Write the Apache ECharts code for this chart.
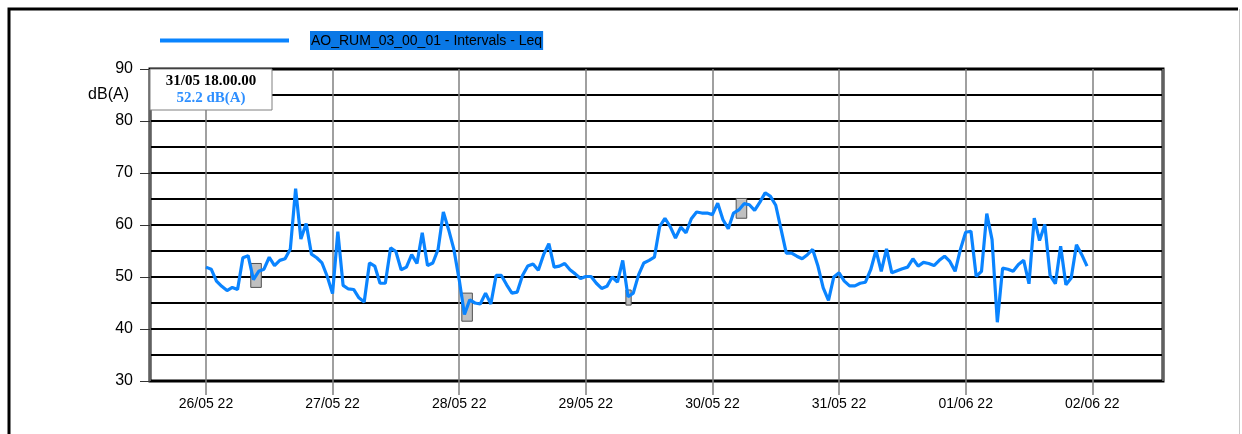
<!DOCTYPE html>
<html><head><meta charset="utf-8">
<script src="https://cdn.jsdelivr.net/npm/echarts@6/dist/echarts.min.js"></script>
<style>html,body{margin:0;padding:0;background:#fff}#c{width:1242px;height:434px}</style>
</head><body><div id="c"></div>
<script>
// ---- data ----
const seriesName = 'AO_RUM_03_00_01 - Intervals - Leq';
const startDate = [2022, 4, 26, 0];   // 26/05/22 00:00 local
const stepHours = 1;                  // hourly intervals
const leq = [
 51.9,51.5,49.2,48.2,47.4,48.0,47.6,53.7,54.1,49.5,51.1,51.5,53.8,52.2,53.2,53.5,55.4,67.0,57.3,60.3,54.4,53.7,52.7,50.1,
 46.8,58.7,48.4,47.7,47.6,46.0,45.2,52.7,52.1,48.8,48.8,55.6,54.9,51.4,51.9,54.3,52.6,58.5,52.2,52.7,55.3,62.5,59.1,55.3,
 49.5,42.8,45.6,45.0,44.8,46.9,44.8,50.3,50.3,48.5,46.9,47.1,50.3,52.1,52.5,51.3,54.3,56.4,51.9,52.1,52.6,51.4,50.6,49.7,
 50.1,50.1,48.8,47.8,48.2,50.0,49.0,53.2,46.2,46.9,50.4,52.7,53.2,53.8,59.7,61.3,59.7,57.5,59.6,58.5,61.2,62.5,62.3,62.3,
 62.0,64.2,61.0,59.3,62.3,62.9,64.1,63.9,62.8,64.4,66.2,65.5,63.8,59.2,54.6,54.6,54.0,53.5,54.3,55.3,52.1,47.9,45.5,50.0,
 50.8,49.2,48.3,48.3,48.8,49.0,51.4,55.1,51.1,55.4,50.8,51.2,51.6,51.9,53.5,52.1,52.8,52.6,52.2,53.2,54.0,53.0,51.1,55.3,
 58.6,58.8,50.1,51.1,62.2,57.2,41.3,51.7,51.5,51.1,52.4,53.2,48.7,61.3,57.0,60.1,50.3,48.7,55.9,48.5,49.8,56.2,54.3,52.1
];
const yMin = 30, yMax = 90, yStep = 10;
const axisStartH = -10.6, axisEndH = 181.4;     // hours relative to start
const markerStartH = [8.5, 48.5, 79.6, 100.5];
const markerEndH   = [10.5, 50.5, 80.6, 102.5];
const markerLow    = [48.0, 41.5, 44.6, 61.3];
const markerHigh   = [52.6, 46.9, 47.5, 65.1];
const cursorIndex = 138;   // 31/05 18:00

// ---- build ----
const H = 3600000;
const t0 = new Date(startDate[0], startDate[1], startDate[2], startDate[3]).getTime();
const times = leq.map((_, i) => t0 + i * stepHours * H);
const pts = leq.map((v, i) => [times[i], v]);
const p2 = n => String(n).padStart(2, '0');
const dayLabel = v => { const d = new Date(v); return p2(d.getDate()) + '/' + p2(d.getMonth() + 1) + ' ' + p2(d.getFullYear() % 100); };
const cd = new Date(times[cursorIndex]);
const cursorTime = p2(cd.getDate()) + '/' + p2(cd.getMonth() + 1) + ' ' + p2(cd.getHours()) + '.' + p2(cd.getMinutes()) + '.' + p2(cd.getSeconds());
const cursorVal = leq[cursorIndex].toFixed(1) + ' dB(A)';
const markAreas = markerStartH.map((s, i) => [
  { coord: [t0 + s * H, markerHigh[i]] },
  { coord: [t0 + markerEndH[i] * H, markerLow[i]] }
]);

const chart = echarts.init(document.getElementById('c'), null, { renderer: 'canvas' });
chart.setOption({
  animation: false,
  backgroundColor: '#fff',
  grid: { left: 150, right: 79, top: 69, bottom: 53, show: true, borderColor: '#000', borderWidth: 3, backgroundColor: 'transparent' },
  legend: {
    left: 160, top: 31, padding: 0, itemWidth: 129, itemHeight: 4, itemGap: 21, icon: 'rect',
    formatter: n => '{g|}{t|' + n + '}',
    textStyle: {
      color: '#000', fontFamily: 'Liberation Sans', fontSize: 14,
      rich: {
        g: { width: 16 },
        t: { color: '#000', fontFamily: 'Liberation Sans', fontSize: 14, backgroundColor: '#0a78e6', padding: [3, 1, 2, 1] }
      }
    },
    data: [seriesName]
  },
  xAxis: {
    type: 'time',
    min: t0 + axisStartH * H, max: t0 + axisEndH * H,
    minInterval: 24 * H, maxInterval: 24 * H,
    axisLine: { show: false },
    axisTick: { show: true, length: 14, lineStyle: { color: '#808080', width: 1.5 } },
    splitLine: { show: true, lineStyle: { color: '#808080', width: 1.5 } },
    axisLabel: { showMinLabel: false, showMaxLabel: false, margin: 16, color: '#000', fontFamily: 'Liberation Sans', fontSize: 14, formatter: v => dayLabel(v) }
  },
  yAxis: {
    type: 'value', min: yMin, max: yMax, interval: yStep,
    axisLine: { show: false },
    axisTick: { show: true, length: 10, lineStyle: { color: '#333', width: 1 } },
    splitLine: { show: true, lineStyle: { color: '#000', width: 2 } },
    minorTick: { show: false, splitNumber: 2 },
    minorSplitLine: { show: true, lineStyle: { color: '#000', width: 2 } },
    axisLabel: { margin: 17, color: '#000', fontFamily: 'Liberation Sans', fontSize: 16 }
  },
  series: [{
    name: seriesName, type: 'line', data: pts, showSymbol: false, symbol: 'none',
    lineStyle: { color: '#0a84ff', width: 3.2 }, itemStyle: { color: '#0a84ff' },
    markArea: { silent: true, itemStyle: { color: '#c0c0c0', borderColor: '#505050', borderWidth: 1, opacity: 1 }, data: markAreas },
    z: 3
  }],
  graphic: [
    { type: 'polyline', z: 100, shape: { points: [[9, 434], [9, 9], [1238, 9]] }, style: { stroke: '#000', lineWidth: 3, fill: null } },
    { type: 'line', z: 100, shape: { x1: 1239.5, y1: 9, x2: 1239.5, y2: 434 }, style: { stroke: '#c8c8c8', lineWidth: 1 } },
    { type: 'text', z: 100, x: 129, y: 95, style: { text: 'dB(A)', fill: '#000', font: '16px "Liberation Sans"', align: 'right', verticalAlign: 'middle' } },
    { type: 'rect', z: 100, shape: { x: 150, y: 69, width: 122, height: 41 }, style: { fill: '#fff', stroke: '#808080', lineWidth: 1 } },
    { type: 'text', z: 101, x: 211, y: 81, style: { text: cursorTime, fill: '#000', font: 'bold 15px "Liberation Serif"', align: 'center', verticalAlign: 'middle' } },
    { type: 'text', z: 101, x: 211, y: 98, style: { text: cursorVal, fill: '#2e8fff', font: 'bold 15px "Liberation Serif"', align: 'center', verticalAlign: 'middle' } }
  ]
});
</script></body></html>
